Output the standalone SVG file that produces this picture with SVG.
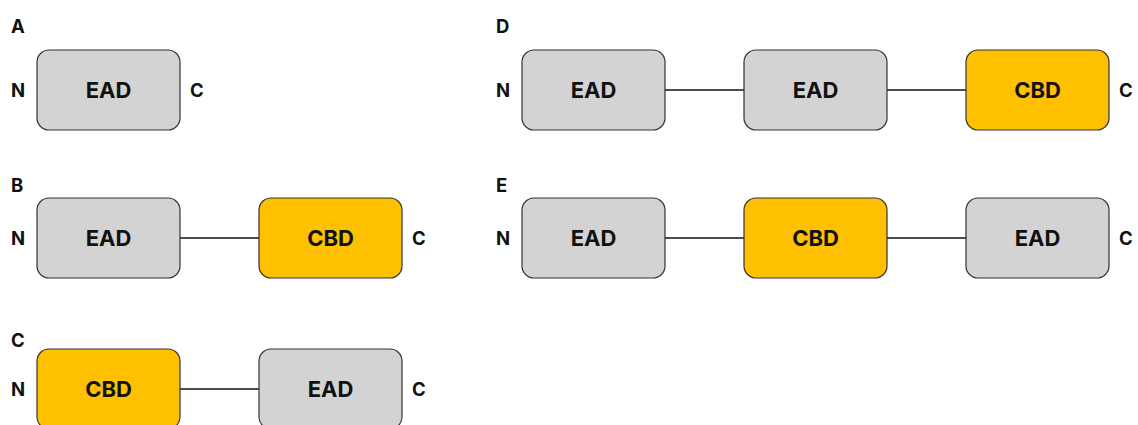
<svg xmlns="http://www.w3.org/2000/svg" width="1138" height="425" viewBox="0 0 1138 425">
<style>
text{font-family:Inter,"Liberation Sans",sans-serif;font-weight:700;fill:#111}
.lbl{font-size:18.5px}
.t{font-size:22px;text-anchor:middle;dominant-baseline:central}
.e{fill:#d3d3d3;stroke:#333;stroke-width:1.2}
.o{fill:#ffc000;stroke:#333;stroke-width:1.2}
.c line{stroke:#111;stroke-width:1.5}
</style>
<rect width="1138" height="425" fill="#fff"/>
<g id="labels">
<text class="lbl" x="11" y="33">A</text>
<text class="lbl" x="11" y="192">B</text>
<text class="lbl" x="11" y="347">C</text>
<text class="lbl" x="496" y="33">D</text>
<text class="lbl" x="496" y="192">E</text>
<text class="lbl" x="11" y="97">N</text>
<text class="lbl" x="190" y="97">C</text>
<text class="lbl" x="11" y="245">N</text>
<text class="lbl" x="412" y="245">C</text>
<text class="lbl" x="11" y="396">N</text>
<text class="lbl" x="412" y="396">C</text>
<text class="lbl" x="496" y="97">N</text>
<text class="lbl" x="1119" y="97">C</text>
<text class="lbl" x="496" y="245">N</text>
<text class="lbl" x="1119" y="245">C</text>
</g>
<g class="c" id="connectors">
<line x1="180" y1="238" x2="259" y2="238"/>
<line x1="180" y1="389" x2="259" y2="389"/>
<line x1="665" y1="90" x2="744" y2="90"/>
<line x1="887" y1="90" x2="966" y2="90"/>
<line x1="665" y1="238" x2="744" y2="238"/>
<line x1="887" y1="238" x2="966" y2="238"/>
</g>
<g id="a1"><rect class="e" x="37" y="50" width="143" height="80" rx="12"/><text class="t" x="108.5" y="90">EAD</text></g>
<g id="b1"><rect class="e" x="37" y="198" width="143" height="80" rx="12"/><text class="t" x="108.5" y="238">EAD</text></g>
<g id="b2"><rect class="o" x="259" y="198" width="143" height="80" rx="12"/><text class="t" x="330.5" y="238">CBD</text></g>
<g id="c1"><rect class="o" x="37" y="349" width="143" height="80" rx="12"/><text class="t" x="108.5" y="389">CBD</text></g>
<g id="c2"><rect class="e" x="259" y="349" width="143" height="80" rx="12"/><text class="t" x="330.5" y="389">EAD</text></g>
<g id="d1"><rect class="e" x="522" y="50" width="143" height="80" rx="12"/><text class="t" x="593.5" y="90">EAD</text></g>
<g id="d2"><rect class="e" x="744" y="50" width="143" height="80" rx="12"/><text class="t" x="815.5" y="90">EAD</text></g>
<g id="d3"><rect class="o" x="966" y="50" width="143" height="80" rx="12"/><text class="t" x="1037.5" y="90">CBD</text></g>
<g id="e1"><rect class="e" x="522" y="198" width="143" height="80" rx="12"/><text class="t" x="593.5" y="238">EAD</text></g>
<g id="e2"><rect class="o" x="744" y="198" width="143" height="80" rx="12"/><text class="t" x="815.5" y="238">CBD</text></g>
<g id="e3"><rect class="e" x="966" y="198" width="143" height="80" rx="12"/><text class="t" x="1037.5" y="238">EAD</text></g>
</svg>
